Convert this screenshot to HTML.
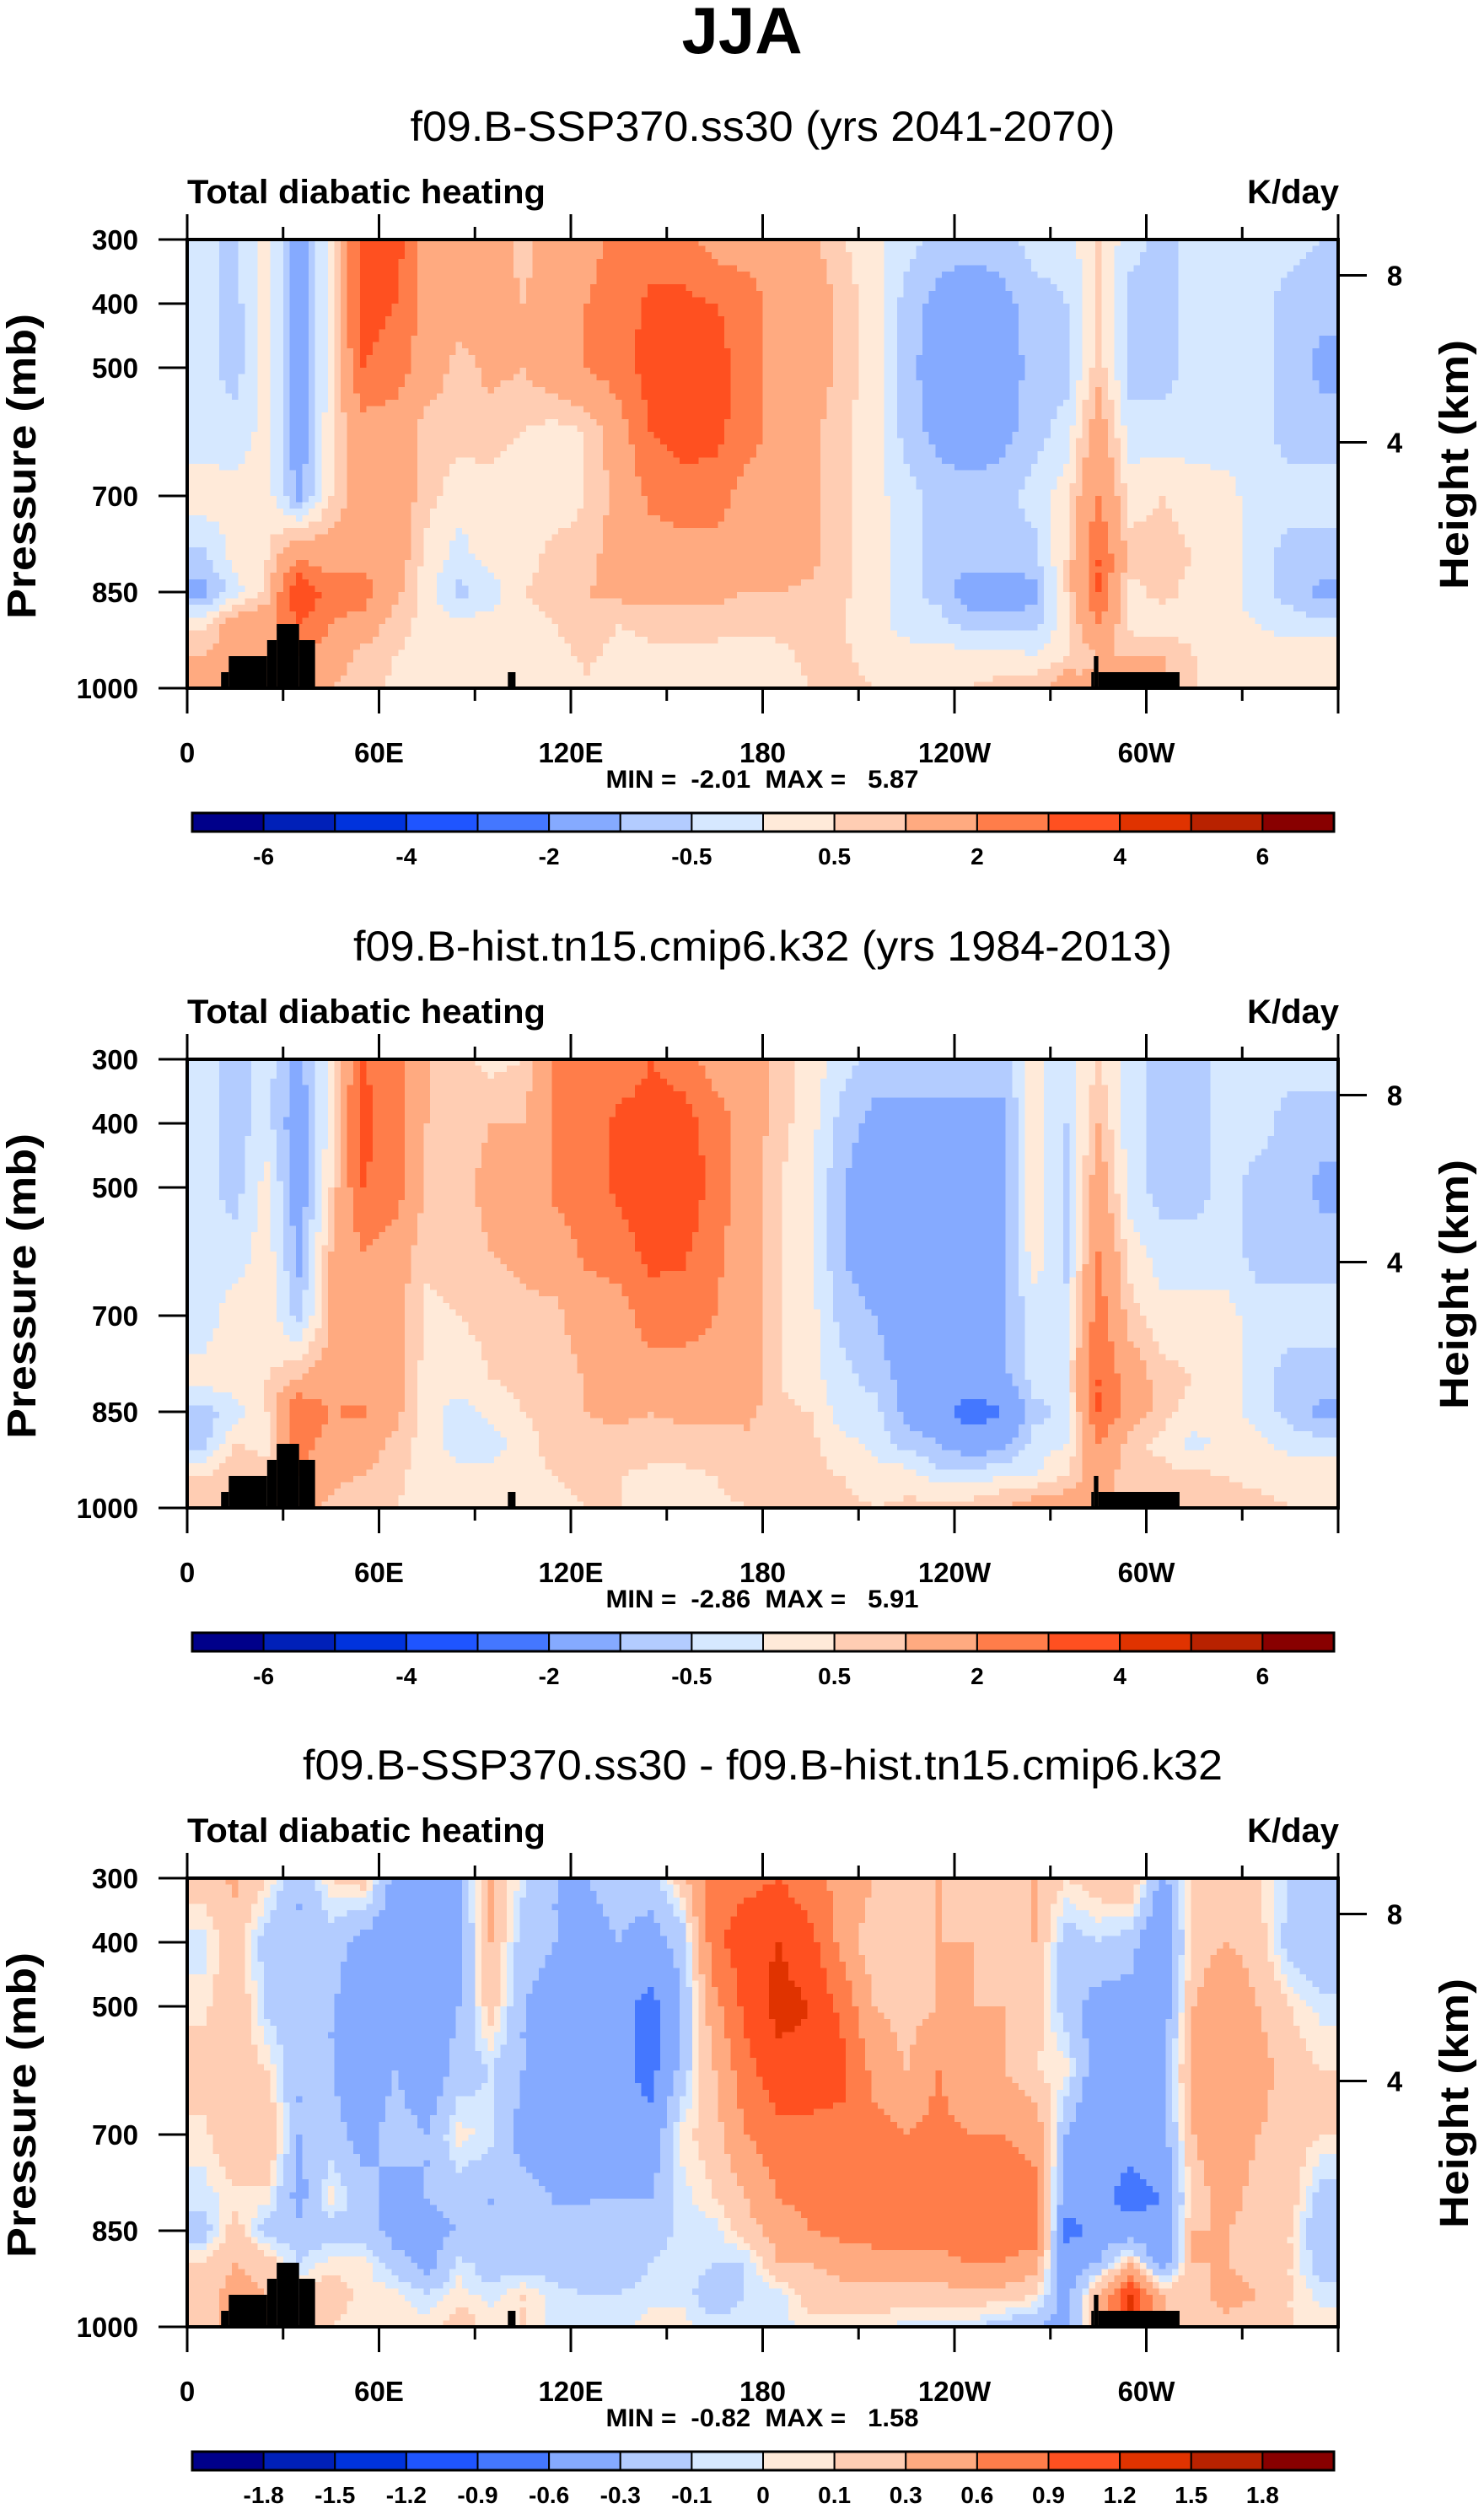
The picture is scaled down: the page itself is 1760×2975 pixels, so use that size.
<!DOCTYPE html>
<html><head><meta charset="utf-8"><style>
html,body{margin:0;padding:0;background:#fff;}
svg{display:block;font-family:"Liberation Sans",sans-serif;}
.pre{white-space:pre;}
</style></head><body>
<svg id="fig" width="1760" height="2975" viewBox="0 0 1760 2975" xmlns="http://www.w3.org/2000/svg">
<text x="880" y="63" font-size="78" font-weight="bold" text-anchor="middle">JJA</text>
</svg>
<script>
// ---------- data ----------
const lons = [5,15,25,35,45,55,65,75,85,95,105,115,125,135,145,155,165,175,185,195,205,215,225,235,245,255,265,275,285,295,305,315,325,335,345,355];
const pressures = [300,400,500,600,700,800,850,900,950,1000];
const levelsAbs = [-6,-5,-4,-3,-2,-1,-0.5,0,0.5,1,2,3,4,5,6];
const levelLabelsAbs = ["-6","","-4","","-2","","-0.5","","0.5","","2","","4","","6"];
const levelsDiff = [-1.8,-1.5,-1.2,-0.9,-0.6,-0.3,-0.1,0,0.1,0.3,0.6,0.9,1.2,1.5,1.8];
const levelLabelsDiff = ["-1.8","-1.5","-1.2","-0.9","-0.6","-0.3","-0.1","0","0.1","0.3","0.6","0.9","1.2","1.5","1.8"];
const colors = ["#00008a","#0020b8","#0033dd","#1f55ff","#4477ff","#85aaff","#b3ccff","#d6e8ff","#ffead9","#ffcdb3","#ffaa80","#ff7d4a","#ff5020","#e03300","#b82200","#880000"];
const xTickLons = [0,60,120,180,240,300];
const xTickLabels = ["0","60E","120E","180","120W","60W"];
const yTickP = [300,400,500,700,850,1000];
const heightTicks = [4,8];
const landLon0 = [10.6,13,25,28,35,100.3,282.8,283.6,285];
const landLon1 = [13,25,28,35,40,102.7,283.6,285,310.4];
const landTop = [975,950,925,900,925,975,975,950,975];
// field values: one row per longitude, 10 pressures each
const field1 = [
[-0.3,-0.3,-0.3,-0.3,0.3,-0.7,-1.2,0.3,1,1],
[-0.7,-0.7,-0.7,-0.3,0.2,0.2,-0.3,1.5,1.5,1],
[0.3,0.3,0.2,0.2,0.3,0.5,0.7,1.5,1.5,1],
[-1.5,-1.5,-1.5,-1.5,-1.2,2,4,3,2,1.5],
[0.3,0.3,0.3,0.4,0.5,1.5,2.5,2,1.5,1],
[3.5,3.5,3,1.5,1.5,1.5,2.5,1.5,0.7,0.7],
[3.5,3,2.5,1.5,1.5,1.5,1.2,0.7,0.5,0.4],
[1.5,1.5,1.5,0.7,0.7,0.3,0.2,0.3,0.3,0.3],
[1.5,1.5,0.7,0.7,0.2,-0.2,-0.7,0.2,0.3,0.3],
[1.5,1.5,1.2,0.7,0.3,0.2,-0.3,0.2,0.3,0.2],
[0.7,1,1,0.5,0.2,0.3,0.5,0.2,0.3,0.2],
[1.5,1.5,1.5,0.3,0.2,0.7,0.7,0.5,0.3,0.2],
[1.5,2,2,0.5,0.5,0.7,1,0.8,0.6,0.4],
[2.5,2.5,2.5,1.5,1.2,1.5,1.2,0.5,0.3,0.3],
[2.5,3.2,3.5,3,2.2,1.5,1.2,0.7,0.3,0.2],
[2.5,3.2,3.5,3.5,2.5,1.5,1.2,0.7,0.4,0.2],
[1.5,3,3.5,3.3,2.5,1.5,1.2,0.7,0.3,0.2],
[1.5,2.5,2.5,2.5,1.5,1.5,1,0.6,0.3,0.2],
[1.5,1.5,1.5,1.5,1.5,1.5,1,0.6,0.4,0.3],
[1.2,1.5,1.5,1.2,1.2,1.2,0.8,0.6,0.6,0.5],
[0.5,0.8,0.8,0.6,0.6,0.6,0.6,0.5,0.6,0.6],
[0.2,0.2,0.2,0.2,0.2,0.2,0.2,0.2,0.3,0.5],
[-0.3,-0.7,-0.7,-0.7,-0.3,-0.3,-0.3,-0.2,0.2,0.4],
[-0.7,-1.2,-1.5,-1.2,-0.7,-0.7,-0.7,-0.3,0.2,0.5],
[-0.7,-1.5,-1.5,-1.5,-0.7,-0.7,-1.5,-0.7,0.2,0.5],
[-0.7,-1.2,-1.5,-1.2,-0.7,-0.7,-1.5,-0.7,0.2,0.7],
[-0.3,-0.7,-0.7,-0.7,-0.3,-0.7,-1.2,-0.7,0,0.8],
[-0.3,-0.5,-0.7,-0.3,0.3,0.5,0.5,0.3,0.5,1.5],
[0.5,0.6,0.8,1.5,2,3,3,2,1,1],
[-0.3,-0.7,-0.7,-0.3,0.3,0.7,0.3,0.3,1,1],
[-0.7,-0.7,-0.7,-0.3,0.5,0.7,0.7,0.2,1,1],
[-0.3,-0.3,-0.3,-0.3,0.3,0.5,0.3,0.3,0.5,0.5],
[-0.3,-0.3,-0.3,-0.3,0.2,0.3,0.2,0.2,0.4,0.5],
[-0.3,-0.3,-0.3,-0.3,-0.3,-0.3,-0.3,0,0.3,0.5],
[-0.3,-0.7,-0.7,-0.7,-0.3,-0.7,-0.7,-0.3,0.3,0.5],
[-0.5,-0.8,-1.2,-0.7,-0.3,-0.7,-1.2,-0.3,0.3,0.5]];
const field2 = [
[-0.3,-0.3,-0.3,-0.3,-0.3,0.2,-0.7,-0.7,0.5,0.7],
[-0.7,-0.7,-0.7,-0.3,0.3,0.3,-0.3,0.5,1,1],
[-0.3,-0.3,0.2,0.3,0.3,0.5,0.5,0.3,0.7,1],
[-1.2,-1.5,-1.5,-1.2,-0.7,1,3,2.5,2,1.5],
[0.3,0.3,0.5,1,1,1.5,2,1.5,1.2,0.8],
[3,3.3,3,2,1.5,1.5,2.2,1.5,1,0.5],
[2.5,2.5,2.5,1.5,1.2,1.2,1.2,0.8,0.6,0.5],
[1,1,0.8,0.6,0.4,0.3,0.3,0.2,0.3,0.3],
[0.7,0.7,0.8,0.7,0.5,0.3,-0.3,-0.3,0.2,0.3],
[0.3,1,1.2,1,0.6,0.5,0.2,-0.3,0.2,0.3],
[0.5,1,1.2,1.2,0.8,0.6,0.5,0.3,0.3,0.3],
[2,2,2.2,1.5,0.8,0.7,0.7,0.7,0.5,0.4],
[2.5,2.5,2.5,2.2,1.5,1,1,0.8,0.6,0.5],
[2.5,3.2,3.2,2.5,1.5,1.5,1.2,0.7,0.5,0.5],
[3,3.3,3.7,3.3,2.5,1.5,1,0.7,0.4,0.3],
[2.5,3.5,4,3.2,2.5,1.5,1.2,0.7,0.4,0.3],
[1.5,2.5,2.5,2.2,2,1.5,1.2,0.7,0.5,0.4],
[1.5,1.5,1.5,1.5,1.5,1.5,1.2,0.8,0.7,0.5],
[0.7,0.7,0.5,0.5,0.5,0.5,0.6,0.6,0.6,0.5],
[0.3,0.2,0.1,0.1,0.2,0.2,0.5,0.6,0.6,0.6],
[-0.3,-0.7,-1,-1,-0.7,-0.3,-0.3,0.2,0.5,0.6],
[-0.7,-1.2,-1.5,-1.5,-1,-0.7,-0.3,-0.2,0.3,0.5],
[-0.7,-1.2,-1.5,-1.5,-1.5,-1.2,-1.2,-0.7,0.3,0.6],
[-0.7,-1.2,-1.5,-1.5,-1.5,-1.5,-1.5,-1,-0.3,0.8],
[-0.7,-1.2,-1.5,-1.5,-1.5,-1.5,-2.5,-1.5,-0.3,0.8],
[-0.7,-1.2,-1.2,-1.2,-1,-1.2,-2,-1.2,0,1],
[0.2,0.3,0.3,0.3,-0.3,-0.3,-0.7,-0.3,0,1.5],
[-0.3,-0.5,-0.7,-0.7,-0.3,0,-0.3,0,0.5,1.5],
[0.5,1,1.5,2,2.5,3,3,2,1.5,1.5],
[-0.3,-0.3,-0.3,0.3,0.7,1.5,1.5,0.7,0.6,0.6],
[-0.7,-0.7,-0.7,-0.3,0.2,0.7,0.7,0.3,0.7,0.7],
[-0.7,-0.7,-0.7,-0.3,0.2,0.5,0.3,-0.2,0.6,0.7],
[-0.3,-0.3,-0.3,-0.3,0.2,0.3,0.3,0.2,0.5,0.6],
[-0.3,-0.3,-0.7,-0.7,-0.3,-0.3,-0.3,0.2,0.4,0.6],
[-0.3,-0.7,-0.7,-0.7,-0.3,-0.7,-0.7,-0.2,0.3,0.5],
[-0.3,-0.7,-1.2,-0.7,-0.3,-0.7,-1.2,-0.3,0.3,0.5]];
const field3 = [
[0.2,-0.05,0.05,0.2,0.05,-0.05,-0.2,0.1,0.2,0.3],
[0.35,0.2,0.3,0.2,0.3,0.05,0.2,0.3,0.4,0.3],
[0.1,-0.2,-0.15,0.1,0.3,0.05,-0.2,0.2,0.3,0.3],
[-0.3,-0.3,-0.2,-0.3,-0.3,-0.4,-0.2,-0.1,0.1,0.3],
[0.1,-0.2,-0.3,-0.3,-0.2,0.05,-0.2,0.05,0.2,0.1],
[0.2,-0.4,-0.4,-0.5,-0.4,-0.2,-0.2,0.05,0.05,0.05],
[-0.4,-0.5,-0.4,-0.3,-0.2,-0.4,-0.4,-0.2,0.05,0.05],
[-0.4,-0.5,-0.5,-0.5,-0.3,-0.3,-0.4,-0.4,-0.1,0.05],
[-0.3,-0.4,-0.3,-0.2,0.05,-0.2,-0.3,-0.05,0.05,0.2],
[0.3,0.3,0.2,-0.1,-0.05,-0.3,-0.3,-0.2,-0.05,0.05],
[-0.05,-0.2,-0.3,-0.3,-0.4,-0.2,-0.2,-0.2,0.1,0.1],
[-0.3,-0.3,-0.4,-0.5,-0.5,-0.3,-0.3,-0.2,-0.05,-0.05],
[-0.3,-0.4,-0.5,-0.5,-0.5,-0.3,-0.3,-0.2,-0.1,-0.05],
[-0.2,-0.3,-0.5,-0.5,-0.5,-0.3,-0.2,-0.2,-0.1,-0.05],
[-0.2,-0.4,-0.7,-0.7,-0.5,-0.3,-0.2,-0.1,-0.05,0.05],
[0.2,-0.2,-0.3,-0.2,0.05,-0.05,-0.05,-0.05,-0.05,0.05],
[0.8,0.8,0.5,0.3,0.2,0.1,-0.05,-0.1,-0.2,-0.05],
[0.8,1.1,1,0.8,0.6,0.3,0.2,-0.1,-0.1,-0.05],
[0.9,1.2,1.3,1.1,0.8,0.6,0.4,0.3,-0.05,-0.05],
[0.7,1,1.2,1.1,0.8,0.7,0.6,0.3,0.2,0.05],
[0.5,0.5,0.8,1,0.8,0.7,0.7,0.4,0.2,0.05],
[0.3,0.1,0.3,0.5,0.7,0.7,0.7,0.5,0.2,0.05],
[0.3,0.1,0.2,0.3,0.6,0.7,0.7,0.5,0.2,-0.05],
[0.3,0.3,0.3,0.6,0.7,0.7,0.7,0.5,0.2,-0.05],
[0.2,0.3,0.3,0.3,0.6,0.7,0.8,0.6,0.2,-0.05],
[0.2,0.2,0.3,0.3,0.6,0.8,0.9,0.6,0.2,-0.2],
[0.3,0.3,0.2,0.1,0.5,0.7,0.8,0.4,0.1,-0.3],
[0.1,-0.2,-0.2,0.05,-0.3,-0.5,-0.7,-0.5,-0.4,-0.4],
[0.2,-0.1,-0.4,-0.5,-0.6,-0.5,-0.5,-0.3,0.3,0.3],
[0.3,-0.2,-0.4,-0.5,-0.5,-0.7,-0.5,0.2,1.2,1.2],
[-0.4,-0.6,-0.5,-0.3,-0.4,-0.6,-0.5,-0.5,0.3,0.3],
[0.2,0.2,0.3,0.4,0.3,0.2,0.3,0.3,0.2,0.1],
[0.2,0.3,0.5,0.5,0.5,0.4,0.3,0.3,0.4,0.2],
[0.1,0.2,0.3,0.4,0.3,0.2,0.2,0.2,0.3,0.1],
[-0.1,-0.2,0.1,0.2,0.2,0.2,0.1,0.1,0.1,0.1],
[-0.2,-0.3,-0.05,0.1,0.1,-0.2,-0.3,-0.2,-0.05,0.05]];
const panelTitles = ["f09.B-SSP370.ss30 (yrs 2041-2070)","f09.B-hist.tn15.cmip6.k32 (yrs 1984-2013)","f09.B-SSP370.ss30 - f09.B-hist.tn15.cmip6.k32"];
const minVals = ["-2.01","-2.86","-0.82"];
const maxVals = ["5.87","5.91","1.58"];

// ---------- drawing ----------
const NS="http://www.w3.org/2000/svg";
const svg=document.getElementById('fig');
const PL=222, PR=1587, PH=532;
const panelTops=[284,1256,2227];
const titleWidths=[836,971,1091];
function mk(tag,attrs,parent){const e=document.createElementNS(NS,tag);for(const k in attrs)e.setAttribute(k,attrs[k]);(parent||svg).appendChild(e);return e;}
function xScale(lon){return PL+(lon/360)*(PR-PL);}
function levelIndex(v,levels){let i=0;for(const l of levels){if(v>=l)i++;}return i;}
function sample(field,lon,p){
  let i=0; while(i<lons.length-1&&lons[i+1]<lon)i++;
  let fx; if(lon<=lons[0]){i=0;fx=0;} else if(lon>=lons[lons.length-1]){i=lons.length-2;fx=1;} else fx=(lon-lons[i])/(lons[i+1]-lons[i]);
  let j=0; while(j<pressures.length-1&&pressures[j+1]<p)j++;
  if(j>pressures.length-2)j=pressures.length-2;
  let fy=Math.min(1,Math.max(0,(p-pressures[j])/(pressures[j+1]-pressures[j])));
  const a=field[i][j],b=field[i+1][j],c=field[i][j+1],d=field[i+1][j+1];
  return (a*(1-fx)+b*fx)*(1-fy)+(c*(1-fx)+d*fx)*fy;
}
const fields=[field1,field2,field3];
const levelSets=[levelsAbs,levelsAbs,levelsDiff];
const labelSets=[levelLabelsAbs,levelLabelsAbs,levelLabelsDiff];
function stdP(z){return 1013.25*Math.pow(1-0.0065*z*1000/288.15,5.2559);}

for(let k=0;k<3;k++){
  const top=panelTops[k], off=top-284;
  const yScale=p=>top+(p-300)/700*PH;
  const g=mk('g',{});
  
  
  const t=mk('text',{x:904.5,y:167+off,'font-size':50,'text-anchor':'middle',textLength:titleWidths[k],lengthAdjust:'spacingAndGlyphs'},g);
  t.textContent=panelTitles[k];
  
  
  const lt=mk('text',{x:222,y:241+off,'font-size':40,'font-weight':'bold',textLength:425,lengthAdjust:'spacingAndGlyphs'},g);
  lt.textContent='Total diabatic heating';
  
  
  const ut=mk('text',{x:1588,y:241+off,'font-size':40,'font-weight':'bold','text-anchor':'end'},g);
  ut.textContent='K/day';
  
  
  // contour field
  const fg=mk('g',{'shape-rendering':'crispEdges'},g);
  
  
  const dl=2, dp=10, lev=levelSets[k], fld=fields[k];
  for(let p=300;p<1000;p+=dp){
    let runStart=0, runCol=null;
    const y0=yScale(p), y1=yScale(p+dp);
    for(let lon=0;lon<=360;lon+=dl){
      let col=null;
      if(lon<360){col=colors[levelIndex(sample(fld,lon+dl/2,p+dp/2),lev)];}
      if(col!==runCol){
        if(runCol!==null){
          const r=mk('rect',{x:xScale(runStart),y:y0,width:xScale(lon)-xScale(runStart)+0.6,height:y1-y0+0.6,fill:runCol},fg);
          
          
        }
        runStart=lon; runCol=col;
      }
    }
  }
  // land
  for(let i=0;i<landLon0.length;i++){
    const r=mk('rect',{x:xScale(landLon0[i]),y:yScale(landTop[i]),width:xScale(landLon1[i])-xScale(landLon0[i]),height:yScale(1000)-yScale(landTop[i]),fill:'#000'},g);
    
    
  }
  // frame
  const fr=mk('rect',{x:PL,y:top,width:PR-PL,height:PH,fill:'none',stroke:'#000','stroke-width':4},g);
  
  
  // x ticks
  for(let lon=0;lon<=360;lon+=30){
    const major=lon%60===0, len=major?30:15, x=xScale(lon);
    const a=mk('line',{x1:x,x2:x,y1:top,y2:top-len,stroke:'#000','stroke-width':3},g);
    
    
    const b=mk('line',{x1:x,x2:x,y1:top+PH,y2:top+PH+len,stroke:'#000','stroke-width':3},g);
    
    
  }
  xTickLons.forEach((lon,i)=>{
    const tx=mk('text',{x:xScale(lon),y:904+off,'font-size':33,'font-weight':'bold','text-anchor':'middle'},g);
    tx.textContent=xTickLabels[i];
    
    
  });
  yTickP.forEach(p=>{
    const y=yScale(p);
    const l=mk('line',{x1:PL,x2:PL-34,y1:y,y2:y,stroke:'#000','stroke-width':3},g);
    
    
    const tx=mk('text',{x:164,y:y+12,'font-size':33,'font-weight':'bold','text-anchor':'end'},g);
    tx.textContent=String(p);
    
    
  });
  heightTicks.forEach(z=>{
    const y=yScale(stdP(z));
    const l=mk('line',{x1:PR,x2:PR+34,y1:y,y2:y,stroke:'#000','stroke-width':3},g);
    
    
    const tx=mk('text',{x:1654,y:y+12,'font-size':33,'font-weight':'bold','text-anchor':'middle'},g);
    tx.textContent=String(z);
    
    
  });
  const pl=mk('text',{x:0,y:0,'font-size':48,'font-weight':'bold','text-anchor':'middle',textLength:362,lengthAdjust:'spacingAndGlyphs',transform:`translate(42,${553+off}) rotate(-90)`},g);
  pl.textContent='Pressure (mb)';
  
  
  const hl=mk('text',{x:0,y:0,'font-size':48,'font-weight':'bold','text-anchor':'middle',textLength:296,lengthAdjust:'spacingAndGlyphs',transform:`translate(1741,${551+off}) rotate(-90)`},g);
  hl.textContent='Height (km)';
  
  
  const mm=mk('text',{x:904,y:934+off,'font-size':30,'font-weight':'bold','text-anchor':'middle','class':'pre',textLength:371,lengthAdjust:'spacingAndGlyphs'},g);
  mm.textContent='MIN =  '+minVals[k]+'  MAX =   '+maxVals[k];
  
  
  // colorbar
  const cb=mk('g',{},g);
  
  
  const cx0=228, cw=(1582-228)/16, cy=964+off, ch=22;
  colors.forEach((c,i)=>{
    const r=mk('rect',{x:cx0+i*cw,y:cy,width:cw,height:ch,fill:c,stroke:'#000','stroke-width':2},cb);
    
    
  });
  const cbo=mk('rect',{x:cx0,y:cy,width:cw*16,height:ch,fill:'none',stroke:'#000','stroke-width':3},cb);
  
  
  labelSets[k].forEach((s,i)=>{
    if(!s)return;
    const tx=mk('text',{x:cx0+(i+1)*cw,y:1025+off,'font-size':28,'font-weight':'bold','text-anchor':'middle'},cb);
    tx.textContent=s;
    
    
  });
}
</script>
</body></html>
